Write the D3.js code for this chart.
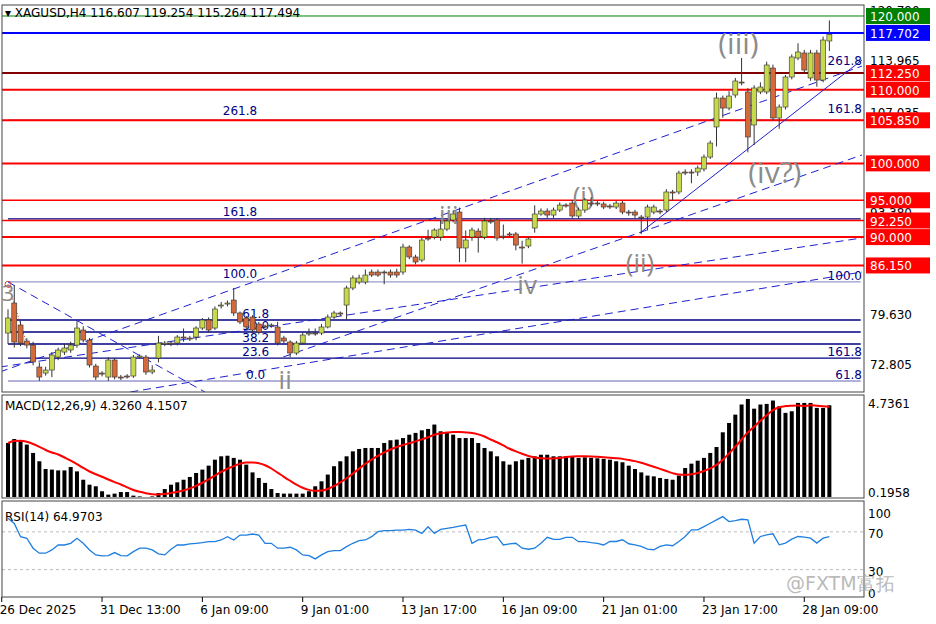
<!DOCTYPE html>
<html><head><meta charset="utf-8">
<script src="https://cdn.jsdelivr.net/npm/d3@7"></script>
<style>body{margin:0;background:#fff}svg{font-family:"DejaVu Sans",Tahoma,sans-serif}</style>
</head><body>
<script>
// H4 candles [open, high, low, close]
const candles = [
[76.98,80.2,75.5,79.02],[81.05,83.4,75.0,75.76],[78.07,78.6,75.2,75.62],[75.90,76.3,74.9,75.35],[75.35,75.8,72.6,73.05],
[72.37,73.0,70.5,71.01],[71.55,72.4,71.2,71.96],[71.96,74.4,71.0,74.00],[73.72,75.0,73.3,74.68],[74.40,75.5,74.0,74.95],
[74.68,75.8,74.3,75.35],[75.35,78.6,75.0,77.66],[77.39,77.9,75.7,76.03],[76.03,76.3,72.3,72.64],[72.50,72.8,70.6,71.01],
[71.55,71.8,71.1,71.42],[71.01,73.7,70.5,73.32],[73.32,73.6,70.7,71.01],[71.01,71.3,70.6,70.88],[71.15,71.4,70.8,71.01],
[71.15,74.0,70.9,73.72],[73.72,74.1,73.5,73.86],[73.72,74.0,71.3,71.69],[71.69,72.6,71.4,71.96],[73.59,76.6,73.0,75.62],
[75.49,75.9,75.2,75.62],[75.62,75.9,75.2,75.49],[75.62,76.7,75.3,76.44],[76.44,77.6,75.8,76.30],[76.30,76.6,75.9,76.17],
[76.44,77.9,76.0,77.66],[77.66,79.0,77.4,78.75],[78.75,79.1,77.1,77.39],[77.66,80.6,77.4,80.24],[80.65,81.2,80.3,80.78],
[80.92,81.4,80.6,81.05],[81.46,83.1,79.3,79.70],[79.70,79.9,78.2,78.48],[79.02,79.3,77.5,77.80],[79.15,79.4,77.0,77.39],
[78.20,78.5,76.8,77.12],[77.93,78.1,77.6,77.80],[78.07,78.3,77.7,77.93],[77.80,78.5,75.3,75.62],[76.30,76.6,75.6,75.90],
[75.76,76.0,73.7,74.27],[74.27,75.9,74.0,75.62],[75.62,77.0,75.4,76.71],[76.85,77.6,76.6,76.98],[76.98,77.6,76.6,76.85],
[76.98,78.2,76.7,77.80],[77.80,79.5,77.6,79.15],[79.15,80.0,78.9,79.70],[79.70,79.9,79.3,79.56],[80.78,83.4,78.8,83.09],
[83.09,84.8,82.8,84.45],[83.90,84.9,83.6,84.45],[83.90,85.6,83.6,84.85],[85.26,85.6,84.6,84.85],[85.26,85.6,84.6,84.85],
[85.26,85.5,83.6,85.13],[85.26,85.6,84.5,84.85],[85.26,85.7,84.5,84.85],[85.26,89.1,84.9,88.65],[88.65,88.9,87.0,87.30],
[87.30,87.6,86.3,86.62],[86.89,89.9,86.6,89.60],[89.87,91.0,89.5,89.74],[90.01,91.2,89.7,90.96],[90.01,92.3,89.5,91.09],
[91.09,92.5,90.8,92.18],[92.32,93.6,92.0,93.13],[93.40,94.0,86.6,88.52],[88.52,90.9,86.6,89.60],[90.01,91.3,89.5,90.96],
[90.82,91.2,87.9,90.01],[90.01,92.6,89.7,92.18],[92.18,92.6,91.8,92.05],[92.32,92.6,89.5,89.87],[90.14,91.7,89.7,90.01],
[90.42,90.7,90.0,90.28],[90.42,90.7,88.2,88.92],[88.65,89.5,86.4,88.52],[88.79,90.0,88.5,89.74],[91.23,94.3,90.6,93.13],
[93.13,93.9,92.9,93.54],[93.54,93.9,92.6,92.99],[92.99,94.0,92.6,93.67],[93.67,94.7,93.4,94.35],[94.35,94.6,94.0,94.22],
[94.62,95.0,92.6,92.86],[92.86,94.0,92.5,93.67],[93.67,95.3,93.3,95.03],[94.62,95.4,94.2,94.49],[94.62,94.9,94.2,94.49],
[94.49,94.8,93.8,94.08],[94.22,94.5,93.8,94.08],[94.08,94.9,93.8,94.62],[94.62,94.9,93.1,93.40],[93.40,93.7,92.9,93.27],
[93.40,93.7,92.6,92.99],[92.72,93.0,90.4,92.59],[92.72,94.4,90.9,94.08],[93.40,94.4,93.1,94.08],[93.54,93.8,93.1,93.40],
[93.67,96.5,93.4,96.12],[96.12,96.4,95.0,95.98],[96.12,99.0,95.8,98.69],[98.83,99.2,98.4,98.69],[98.83,99.2,97.3,98.69],
[98.83,99.7,98.3,99.37],[99.24,101.2,98.9,100.86],[100.86,103.1,100.6,102.76],[104.94,109.6,102.3,108.87],[108.87,109.2,106.2,107.51],
[107.51,109.8,107.2,109.14],[109.28,111.6,108.9,111.18],[111.04,114.3,110.6,110.91],[109.69,110.2,101.5,103.58],[105.21,110.6,102.5,110.23],
[109.69,111.0,109.4,110.36],[109.69,113.8,109.4,113.35],[112.94,113.4,105.8,106.16],[106.16,108.0,104.7,107.65],[107.65,112.0,107.3,111.72],
[111.72,114.8,111.4,114.44],[114.30,116.3,114.0,115.11],[114.98,115.4,112.3,112.67],[111.59,115.4,111.2,114.98],[114.98,115.4,110.4,111.31],
[111.31,117.2,111.0,116.74],[116.61,119.4,115.26,117.49]
];
const macd = [2.72,2.92,2.86,2.64,2.22,1.80,1.41,1.38,1.34,1.34,1.51,1.29,0.87,0.62,0.54,0.29,0.12,0.17,0.25,0.25,
0.07,0.03,0.0,0.03,0.20,0.40,0.62,0.74,0.87,1.01,1.21,1.38,1.58,1.88,2.05,2.08,1.97,1.88,1.63,1.24,
0.96,0.71,0.40,0.20,0.17,0.17,0.17,0.17,0.29,0.54,0.79,1.13,1.55,1.80,2.05,2.30,2.42,2.47,2.47,2.47,
2.72,2.86,2.89,2.97,3.14,3.23,3.36,3.43,3.65,3.31,3.23,3.14,2.97,2.97,2.97,2.72,2.47,2.30,2.05,1.80,
1.63,1.80,1.88,1.97,2.05,2.13,2.13,2.05,2.05,2.05,2.05,1.97,2.00,1.97,1.95,1.92,
1.88,1.80,1.75,1.58,1.41,1.24,1.08,1.04,0.96,0.91,0.87,1.08,1.46,1.68,1.83,1.97,2.22,2.52,3.26,3.73,
4.15,4.66,4.94,4.45,4.66,4.69,4.86,4.57,4.24,4.32,4.74,4.74,4.74,4.49,4.49,4.62];
const rsi = [84.4,78.9,64.9,63.2,52.7,47.4,47.4,50.9,56.1,56.1,57.9,63.2,57.9,50.9,45.6,44.6,44.9,48.1,44.9,44.6,
49.1,52.7,52.7,50.9,46.7,45.6,51.6,56.1,56.1,57.2,57.9,58.6,59.6,59.6,61.4,64.9,61.4,66.6,66.6,67.7,
66.6,57.9,57.9,52.7,52.7,53.7,50.9,45.6,44.9,41.4,45.6,49.1,50.2,50.2,54.4,57.9,60.7,61.4,64.9,70.2,
71.2,71.2,71.9,71.9,72.6,71.9,68.4,75.4,68.4,72.6,73.7,74.7,76.1,77.2,57.9,61.4,62.1,64.2,64.9,56.1,
57.2,57.9,52.7,51.6,52.7,57.9,64.2,62.1,62.1,64.2,64.2,59.6,59.6,58.6,57.9,56.1,
59.8,59.8,61.6,57.4,56.3,54.6,51.8,51.1,54.6,56.3,55.3,59.8,65.1,72.1,72.1,75.6,79.1,82.6,86.1,80.9,
81.9,83.3,82.6,58.1,65.1,66.8,67.9,56.3,58.1,62.3,65.1,64.4,63.3,58.1,63.3,65.0];
// signal = SMA(9) of MACD, as MT4 defines it
const signal = macd.map((v, i) => d3.mean(macd.slice(Math.max(0, i - 8), i + 1)));

const timeTicks = [[-1,'26 Dec 2025'],[15,'31 Dec 13:00'],[31,'6 Jan 09:00'],[47,'9 Jan 01:00'],[63,'13 Jan 17:00'],
  [79,'16 Jan 09:00'],[95,'21 Jan 01:00'],[111,'23 Jan 17:00'],[127,'28 Jan 09:00']];
const priceTicks = [120.790, 113.965, 107.035, 100.210, 93.380, 86.455, 79.630, 72.805];
// horizontal levels: price, colour, width, label box colour
const levels = [[120,'#008000',1,'#008000'],[117.702,'#0000ff',2,'#0000ff'],[112.25,'#800000',2,'#ff0000'],
  [110,'#ff0000',2,'#ff0000'],[105.85,'#ff0000',2,'#ff0000'],[100,'#ff0000',2,'#ff0000'],[95,'#ff0000',1.5,'#ff0000'],
  [92.25,'#ff0000',1.5,'#ff0000'],[90,'#ff0000',2,'#ff0000'],[86.15,'#ff0000',2,'#ff0000']];
// fibonacci lines: price, x-end bar, colour
const fibLines = [[70.47,136,'#9999cc'],[73.59,136,'#000080'],[75.49,136,'#000080'],[77.12,136,'#000080'],
  [78.75,136,'#000080'],[83.91,136,'#9999cc'],[92.46,136,'#000080'],[105.89,136,'#9999cc']];
const fibLabels = [[37,106.6,'261.8'],[37,92.8,'161.8'],[37,84.4,'100.0'],[39.5,79.0,'61.8'],[39.5,77.4,'50.0'],
  [39.5,75.7,'38.2'],[39.5,73.8,'23.6'],[39.5,70.7,'0.0'],[136.2,113.3,'261.8'],[136.2,106.8,'161.8'],
  [136.2,84.2,'100.0'],[136.2,73.8,'161.8'],[136.2,70.7,'61.8']];
// trend lines [bar, price] pairs, dashed?
const trends = [[[-1.3,71.7],[136.2,113.2],1],[[-1.3,72.37],[136.2,89.88],1],[[19.5,68.98],[136.2,85.26],1],
  [[43.9,73.73],[136.2,101.14],1],[[100.8,90.56],[136.2,114.03],0],[[0,83.91],[31.4,68.98],1]];
// elliott wave labels: bar, baseline price, text, size
const waves = [[0,81.3,'3',22],[44.2,69.4,'ii',26],[70.3,91.8,'iii',26],[82.8,82.3,'iv',26],[91.8,94.4,'(i)',26],
  [100.8,85.3,'(ii)',26],[116.5,114.8,'(iii)',30],[122.3,97.3,'(iv?)',30]];

const W = 936, H = 624, R = 864;
const svg = d3.select('body').append('svg').attr('width', W).attr('height', H);
const x = d3.scaleLinear().domain([0, 131]).range([8, 8 + 131 * 6.27]);
const y = d3.scaleLinear().domain([68.98, 122.17]).range([392, 0]);
const ym = d3.scaleLinear().domain([0, 4.7361]).range([497, 403]);
const yr = d3.scaleLinear().domain([0, 100]).range([598, 503.5]);

svg.append('clipPath').attr('id', 'cm').append('rect').attr('x', 2).attr('y', 5).attr('width', R - 2).attr('height', 387);
const main = svg.append('g').attr('clip-path', 'url(#cm)');

fibLines.forEach(([p, e, c]) => main.append('line').attr('x1', x(0)).attr('x2', x(e)).attr('y1', y(p)).attr('y2', y(p))
  .attr('stroke', c).attr('stroke-width', 1.3));
levels.forEach(([p, c, w]) => main.append('line').attr('x1', 0).attr('x2', R).attr('y1', y(p)).attr('y2', y(p))
  .attr('stroke', c).attr('stroke-width', w));
trends.forEach(([a, b, d]) => main.append('line').attr('x1', x(a[0])).attr('y1', y(a[1])).attr('x2', x(b[0])).attr('y2', y(b[1]))
  .attr('stroke', '#1f1fd0').attr('stroke-width', 1).attr('stroke-dasharray', d ? '8,5' : null));
main.append('line').attr('x1', x(0)).attr('y1', y(83.6)).attr('x2', x(3)).attr('y2', y(75.5))
  .attr('stroke', '#ff0000').attr('stroke-dasharray', '1,2');

fibLabels.forEach(([i, p, t]) => main.append('text').attr('x', x(i)).attr('y', y(p)).attr('text-anchor', i > 130 ? 'end' : 'middle')
  .attr('font-size', 12).attr('fill', '#000080').text(t));

waves.forEach(([i, p, t, s]) => main.append('text').attr('x', x(i)).attr('y', y(p)).attr('text-anchor', 'middle')
  .attr('font-size', s).attr('fill', '#8c8c8c').attr('font-family', 'Open Sans').text(t));
main.append('circle').attr('cx', x(0)).attr('cy', y(83.6)).attr('r', 3).attr('fill', 'none').attr('stroke', '#c05050');

const cg = main.selectAll('.c').data(candles).enter().append('g');
cg.append('line').attr('x1', (d, i) => x(i)).attr('x2', (d, i) => x(i)).attr('y1', d => y(d[1])).attr('y2', d => y(d[2]))
  .attr('stroke', '#333');
cg.append('rect').attr('x', (d, i) => x(i) - 2.5).attr('width', 5)
  .attr('y', d => y(Math.max(d[0], d[3]))).attr('height', d => Math.max(1, Math.abs(y(d[0]) - y(d[3]))))
  .attr('fill', d => d[3] >= d[0] ? '#c6d84c' : '#d46a3a').attr('stroke', '#333').attr('stroke-width', 0.6);

// MACD
svg.selectAll('.m').data(macd).enter().append('rect').attr('x', (d, i) => x(i) - 2).attr('width', 4)
  .attr('y', d => ym(d)).attr('height', d => ym(0) - ym(d)).attr('fill', '#000');
svg.append('path').datum(signal).attr('d', d3.line().x((d, i) => x(i)).y(d => ym(d)).curve(d3.curveMonotoneX))
  .attr('fill', 'none').attr('stroke', '#ff0000').attr('stroke-width', 2);

// RSI
[70, 30].forEach(v => svg.append('line').attr('x1', 2).attr('x2', R).attr('y1', yr(v)).attr('y2', yr(v))
  .attr('stroke', '#bbb').attr('stroke-dasharray', '3,3'));
svg.append('path').datum(rsi).attr('d', d3.line().x((d, i) => x(i)).y(d => yr(d)))
  .attr('fill', 'none').attr('stroke', '#1e7fe0').attr('stroke-width', 1.3);

// frames
[[2, 5, 392], [2, 395, 498], [2, 501, 597]].forEach(([x0, a, b]) => svg.append('rect').attr('x', x0).attr('y', a)
  .attr('width', R - x0).attr('height', b - a).attr('fill', 'none').attr('stroke', '#444'));

// price axis
priceTicks.forEach(p => svg.append('text').attr('x', 870).attr('y', y(p) + 5).attr('font-size', 12).text(p.toFixed(3)));
levels.forEach(([p, , , bc]) => {
  svg.append('rect').attr('x', 866).attr('y', y(p) - 8).attr('width', 64).attr('height', 16).attr('fill', bc);
  svg.append('text').attr('x', 870).attr('y', y(p) + 5).attr('font-size', 12).attr('fill', '#fff').text(p.toFixed(3));
});
svg.append('text').attr('x', 868).attr('y', ym(4.7361) + 5).attr('font-size', 12).text('4.7361');
svg.append('text').attr('x', 868).attr('y', 497).attr('font-size', 12).text('0.1958');
[[100, 100], [70, 70], [30, 30], [0, 0]].forEach(([v, t]) => svg.append('text').attr('x', 868)
  .attr('y', yr(v) + (v === 100 ? 14 : v === 0 ? 0 : 6)).attr('font-size', 12).text(t));

// time axis
timeTicks.forEach(([i, t]) => {
  svg.append('line').attr('x1', x(i)).attr('x2', x(i)).attr('y1', 597).attr('y2', 602).attr('stroke', '#000');
  svg.append('text').attr('x', x(i) - 2).attr('y', 614).attr('font-size', 12).text(t);
});

svg.append('text').attr('x', 5).attr('y', 17).attr('font-size', 12).text('▾ XAGUSD,H4  116.607 119.254 115.264 117.494');
svg.append('text').attr('x', 5).attr('y', 410).attr('font-size', 12).text('MACD(12,26,9) 4.3260 4.1507');
svg.append('text').attr('x', 5).attr('y', 521).attr('font-size', 12).text('RSI(14) 64.9703');
svg.append('text').attr('x', 786).attr('y', 590).attr('font-size', 19).attr('fill', '#aaa').attr('opacity', 0.8)
  .text('@FXTM富拓');
</script>
</body></html>
